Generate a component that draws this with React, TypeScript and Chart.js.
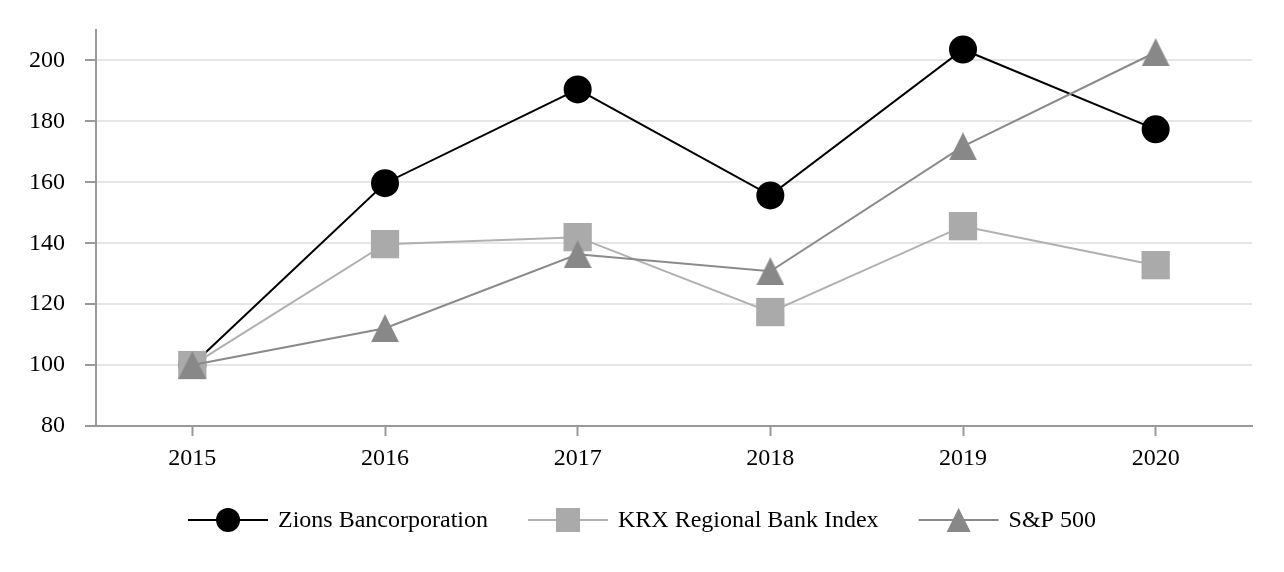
import React, { useEffect, useRef } from 'react';
import { Chart, registerables } from 'chart.js';
Chart.register(...registerables);

const years = ['2015', '2016', '2017', '2018', '2019', '2020'];
const zions = [100, 159.7, 190.5, 155.7, 203.6, 177.4];
const krx = [100, 139.7, 142.0, 117.4, 145.6, 132.8];
const sp500 = [100, 112.1, 136.4, 130.8, 171.8, 202.7];
const yTickValues = [80, 100, 120, 140, 160, 180, 200];
const seriesLabels = ['Zions Bancorporation', 'KRX Regional Bank Index', 'S&P 500'];

const FONT = '"Liberation Serif", "Times New Roman", serif';

function makeTriangle(w: number, h: number, color: string) {
  const c = document.createElement('canvas');
  c.width = w;
  c.height = h;
  const ctx = c.getContext('2d')!;
  ctx.fillStyle = color;
  ctx.beginPath();
  ctx.moveTo(w / 2, 0);
  ctx.lineTo(w, h);
  ctx.lineTo(0, h);
  ctx.closePath();
  ctx.fill();
  return c;
}

function drawMarker(ctx: CanvasRenderingContext2D, style: string, x: number, y: number, size: number, color: string) {
  ctx.fillStyle = color;
  ctx.beginPath();
  if (style === 'circle') {
    ctx.arc(x, y, size / 2, 0, Math.PI * 2);
  } else if (style === 'rect') {
    ctx.rect(x - size / 2, y - size / 2, size, size);
  } else {
    ctx.moveTo(x, y - size / 2);
    ctx.lineTo(x + size / 2, y + size / 2);
    ctx.lineTo(x - size / 2, y + size / 2);
    ctx.closePath();
  }
  ctx.fill();
}

const legendPlugin = {
  id: 'customLegend',
  afterDraw(chart: any) {
    const ctx = chart.ctx as CanvasRenderingContext2D;
    ctx.save();
    ctx.font = `24px ${FONT}`;
    const ds = chart.data.datasets;
    const lineLen = 80, gap = 10, itemGap = 40;
    const widths = ds.map((d: any) => lineLen + gap + ctx.measureText(d.label).width);
    const total = widths.reduce((a: number, b: number) => a + b, 0) + itemGap * (ds.length - 1);
    let x = chart.width / 2 - total / 2;
    const y = 520;
    ds.forEach((d: any, i: number) => {
      ctx.strokeStyle = d.borderColor;
      ctx.lineWidth = 2;
      ctx.beginPath();
      ctx.moveTo(x, y);
      ctx.lineTo(x + lineLen, y);
      ctx.stroke();
      drawMarker(ctx, d.legendMarker, x + lineLen / 2, y, 24, d.markerColor);
      ctx.fillStyle = '#000';
      ctx.textBaseline = 'middle';
      ctx.textAlign = 'left';
      ctx.fillText(d.label, x + lineLen + gap, y + 1);
      x += widths[i] + itemGap;
    });
    ctx.restore();
  },
};

export default function App() {
  const ref = useRef<HTMLCanvasElement>(null);
  useEffect(() => {
    document.body.style.margin = '0';
    const tri = makeTriangle(28, 28, '#888888');
    const chart = new Chart(ref.current!, {
      type: 'line',
      data: {
        labels: years,
        datasets: [
          {
            label: seriesLabels[0],
            data: zions,
            borderColor: '#000000',
            backgroundColor: '#000000',
            pointBackgroundColor: '#000000',
            markerColor: '#000000',
            legendMarker: 'circle',
            pointBorderWidth: 0,
            borderWidth: 2,
            pointStyle: 'circle',
            pointRadius: 14,
            order: 3,
          },
          {
            label: seriesLabels[1],
            data: krx,
            borderColor: '#b0b0b0',
            backgroundColor: '#aaaaaa',
            pointBackgroundColor: '#aaaaaa',
            markerColor: '#aaaaaa',
            legendMarker: 'rect',
            pointBorderWidth: 0,
            borderWidth: 2,
            pointStyle: 'rect',
            pointRadius: 20,
            order: 2,
          },
          {
            label: seriesLabels[2],
            data: sp500,
            borderColor: '#8a8a8a',
            backgroundColor: '#888888',
            pointBackgroundColor: '#888888',
            markerColor: '#888888',
            legendMarker: 'triangle',
            pointBorderWidth: 0,
            borderWidth: 2,
            pointStyle: tri,
            pointRadius: 14,
            order: 1,
          },
        ] as any,
      },
      options: {
        animation: false,
        responsive: false,
        maintainAspectRatio: false,
        layout: { padding: { top: 30, right: 32, left: 0, bottom: 0 } },
        plugins: { legend: { display: false }, tooltip: { enabled: false } },
        elements: { line: { tension: 0 } },
        scales: {
          x: {
            offset: true,
            grid: { display: true, drawOnChartArea: false, drawTicks: true, tickLength: 10, tickColor: '#999', tickWidth: 2 },
            border: { display: true, color: '#999', width: 2 },
            ticks: { color: '#000', font: { family: FONT, size: 24 }, padding: 8 },
            afterFit: (s: any) => { s.height = 572 - 426; s.paddingLeft = 0; s.paddingRight = 0; },
          },
          y: {
            min: 80,
            max: 210,
            afterBuildTicks: (s: any) => { s.ticks = yTickValues.map((v) => ({ value: v })); },
            grid: { color: '#e6e6e6', lineWidth: 2, drawTicks: true, tickLength: 11, tickColor: '#999', tickWidth: 2 },
            border: { display: true, color: '#999', width: 2 },
            ticks: { color: '#000', font: { family: FONT, size: 24 }, padding: 20 },
            afterFit: (s: any) => { s.width = 96; s.paddingTop = 0; s.paddingBottom = 0; },
          },
        },
      },
      plugins: [legendPlugin],
    });
    return () => chart.destroy();
  }, []);
  return (
    <div style={{ width: 1284, height: 572 }}>
      <canvas ref={ref} width={1284} height={572} style={{ display: 'block' }} />
    </div>
  );
}
